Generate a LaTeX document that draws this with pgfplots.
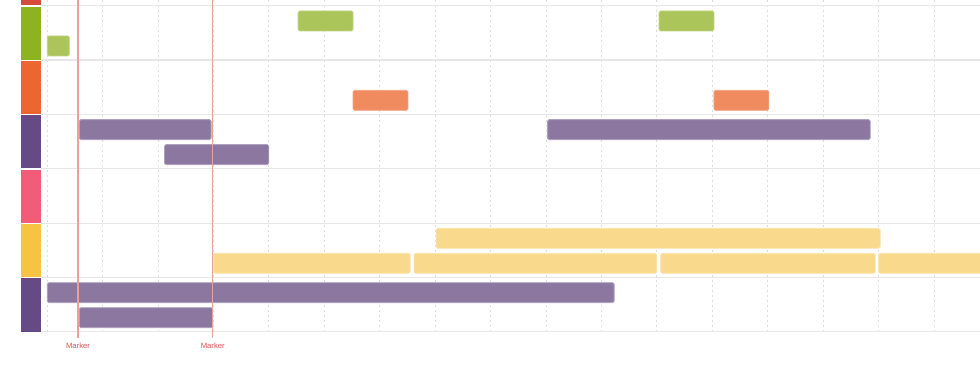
\documentclass[border=0pt]{standalone}
\usepackage{pgfplots}
\pgfplotsset{compat=1.18}
\usepackage{fontspec}
\setmainfont{Liberation Sans}
\definecolor{sRed}{HTML}{D64A3B}
\definecolor{sGreen}{HTML}{8DB321}
\definecolor{sOrange}{HTML}{EC6630}
\definecolor{sPurple}{HTML}{654A86}
\definecolor{sPink}{HTML}{F15C78}
\definecolor{sYellow}{HTML}{F6C342}
\definecolor{bGreen}{HTML}{ABC55A}
\definecolor{bOrange}{HTML}{F08B60}
\definecolor{bPurple}{HTML}{8B77A0}
\definecolor{bYellow}{HTML}{F9DA8C}
\definecolor{gridc}{HTML}{E6E6E6}
\definecolor{dashc}{HTML}{DDDDDD}
\definecolor{mline}{HTML}{E8A29E}
\definecolor{mtext}{HTML}{D9534F}
% bar: fill, border, x1, x2, y1, y2
\newcommand\gbar[6]{\addplot[fill=#1, draw=#2, line width=0.8pt, rounded corners=1.5pt] coordinates {(#3,#5) (#4,#5) (#4,#6) (#3,#6)} --cycle;}
\newcommand\strip[3]{\addplot[fill=#1, draw=none] coordinates {(-0.469,#2) (-0.108,#2) (-0.108,#3) (-0.469,#3)} --cycle;}
\begin{document}
\begin{tikzpicture}
\begin{axis}[
  scale only axis,
  width=980pt, height=369pt,
  xmin=-0.848, xmax=16.83,
  ymin=-0.681, ymax=6.11,
  axis lines=none, ticks=none,
  clip=true,
]
% vertical dashed grid
\pgfplotsinvokeforeach{0,...,16}{
  \addplot[dashc, line width=0.7pt, dash pattern=on 2pt off 3pt] coordinates {(#1,0) (#1,6.11)};
}
% horizontal row lines
\pgfplotsinvokeforeach{0,1,2,3,4,6}{
  \addplot[gridc, line width=1pt] coordinates {(-0.108,#1) (16.83,#1)};
}
\addplot[gridc, line width=1.8pt] coordinates {(-0.108,5) (16.83,5)};
% color strip
\strip{sRed}{6.01}{6.2}
\strip{sGreen}{5.01}{5.99}
\strip{sOrange}{4.01}{4.99}
\strip{sPurple}{3.01}{3.99}
\strip{sPink}{2.01}{2.99}
\strip{sYellow}{1.01}{1.99}
\strip{sPurple}{0}{0.99}
% green row (k=5)
\gbar{bGreen}{bGreen!75!white}{4.53}{5.52}{5.54}{5.908}
\gbar{bGreen}{bGreen!75!white}{11.04}{12.03}{5.54}{5.908}
\gbar{bGreen}{bGreen!75!white}{0.005}{0.402}{5.08}{5.448}
% orange row (k=4)
\gbar{bOrange}{bOrange!80!white}{5.52}{6.51}{4.08}{4.448}
\gbar{bOrange}{bOrange!80!white}{12.03}{13.02}{4.08}{4.448}
% purple row (k=3)
\gbar{bPurple}{bPurple!70!white}{0.583}{2.96}{3.54}{3.908}
\gbar{bPurple}{bPurple!70!white}{9.03}{14.85}{3.54}{3.908}
\gbar{bPurple}{bPurple!70!white}{2.12}{4.0}{3.08}{3.448}
% yellow row (k=1)
\gbar{bYellow}{bYellow!70!white}{7.02}{15.03}{1.54}{1.908}
\gbar{bYellow}{bYellow!70!white}{3.0}{6.55}{1.08}{1.448}
\gbar{bYellow}{bYellow!70!white}{6.62}{11.0}{1.08}{1.448}
\gbar{bYellow}{bYellow!70!white}{11.07}{14.94}{1.08}{1.448}
\gbar{bYellow}{bYellow!70!white}{15.0}{17.2}{1.08}{1.448}
% purple row (k=0)
\gbar{bPurple}{bPurple!70!white}{0.005}{10.23}{0.54}{0.908}
\gbar{bPurple}{bPurple!70!white}{0.583}{2.99}{0.08}{0.448}
% markers
\addplot[mline, line width=1.1pt] coordinates {(0.559,-0.11) (0.559,6.11)};
\addplot[mline, line width=1.1pt] coordinates {(2.99,-0.11) (2.99,6.11)};
\node[text=mtext, font=\fontsize{7.7}{9}\selectfont] at (axis cs:0.559,-0.25) {Marker};
\node[text=mtext, font=\fontsize{7.7}{9}\selectfont] at (axis cs:2.99,-0.25) {Marker};
\end{axis}
\path[use as bounding box] (current axis.south west) rectangle (current axis.north east);
\end{tikzpicture}
\end{document}
